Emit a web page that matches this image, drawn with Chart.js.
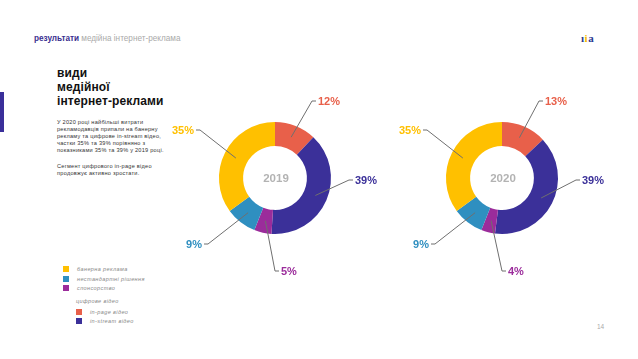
<!DOCTYPE html>
<html>
<head>
<meta charset="utf-8">
<script src="https://cdn.jsdelivr.net/npm/chart.js@4.4.1/dist/chart.umd.min.js"></script>
<style>
  html, body { margin: 0; padding: 0; background: #fff; }
  body { width: 638px; height: 359px; position: relative; overflow: hidden; font-family: "Liberation Sans", Arial, sans-serif; }
  .abs { position: absolute; white-space: nowrap; }
  #head { left: 34px; top: 34px; font-size: 8.2px; line-height: 10px; color: #aaa; }
  #head b { color: #3a2f8f; }
  #logo { left: 581px; top: 32px; font: bold 11px "Liberation Serif", serif; color: #2a3990; letter-spacing: 0.5px; }
  #logo .y { color: #f5b800; }
  #bar { left: 0; top: 92px; width: 4px; height: 40px; background: #3a2f9a; }
  #title { left: 57px; top: 65.8px; font-size: 12px; font-weight: bold; line-height: 14px; color: #111; letter-spacing: 0.1px; }
  #body { left: 57px; top: 119px; font-size: 5.6px; line-height: 7px; color: #333; letter-spacing: 0.25px; }
  #body p { margin: 0 0 9px 0; }
  #legend { left: 0; top: 0; }
  .sq { position: absolute; width: 6px; height: 6px; }
  .lt { position: absolute; font-size: 5.5px; line-height: 6px; font-style: italic; color: #888; letter-spacing: 0.4px; white-space: nowrap; }
  #page { left: 597px; top: 323px; font-size: 6.5px; color: #aaa; }
  canvas { position: absolute; }
</style>
</head>
<body>
<div id="head" class="abs"><b>результати</b> медійна інтернет-реклама</div>
<div id="logo" class="abs">ı<span class="y">i</span>a</div>
<div id="bar" class="abs"></div>
<div id="title" class="abs">види<br>медійної<br>інтернет-реклами</div>
<div id="body" class="abs">
  <p>У 2020 році найбільші витрати<br>рекламодавців припали на банерну<br>рекламу та цифрове in-stream відео,<br>частки 35% та 39% порівняно з<br>показниками 35% та 39% у 2019 році.</p>
  <p>Сегмент цифрового in-page відео<br>продовжує активно зростати.</p>
</div>
<div id="legend" class="abs"></div>
<div id="page" class="abs">14</div>
<canvas id="donut2019" width="240" height="220" style="left:155px;top:68px"></canvas>
<canvas id="donut2020" width="240" height="220" style="left:382px;top:68px"></canvas>
<script>
// slices clockwise from 12 o'clock
const segments = ['in-page відео', 'in-stream відео', 'спонсорство', 'нестандартні рішення', 'банерна реклама'];
const share2019 = [12, 39, 5, 9, 35];
const share2020 = [13, 39, 4, 9, 35];
const years = ['2019', '2020'];
const colors = ['#e8604a', '#3b3099', '#9b2c9b', '#2f8fc0', '#ffc000'];

// legend order as on the slide
const legendTop = [4, 3, 2];   // banner, non-standard, sponsorship
const legendVideo = [0, 1];    // in-page, in-stream
const videoGroup = 'цифрове відео';

// where each leader line bends, relative to donut centre, and which side the text sits
const labelSpots = [
  [37, -77, 1],
  [74, 2, 1],
  [0, 93, 1],
  [-67, 66, -1],
  [-75, -48, -1]
];

const leg = document.getElementById('legend');
function addItem(idx, x, y) {
  leg.insertAdjacentHTML('beforeend',
    `<div class="sq" style="left:${x}px;top:${y}px;background:${colors[idx]}"></div>` +
    `<div class="lt" style="left:${x + 14}px;top:${y}px">${segments[idx]}</div>`);
}
legendTop.forEach((idx, k) => addItem(idx, 63, 266 + k * 9.5));
leg.insertAdjacentHTML('beforeend', `<div class="lt" style="left:76px;top:298px">${videoGroup}</div>`);
legendVideo.forEach((idx, k) => addItem(idx, 76, 308.5 + k * 9.5));

const leaderLabels = {
  id: 'leaderLabels',
  afterDraw(chart, args, opts) {
    const ctx = chart.ctx;
    const meta = chart.getDatasetMeta(0);
    const values = chart.data.datasets[0].data;
    ctx.save();
    meta.data.forEach((arc, i) => {
      const mid = (arc.startAngle + arc.endAngle) / 2;
      const r = (arc.innerRadius + arc.outerRadius) / 2;
      const sx = arc.x + Math.cos(mid) * r;
      const sy = arc.y + Math.sin(mid) * r;
      const [dx, dy, side] = labelSpots[i];
      const ex = arc.x + dx, ey = arc.y + dy;
      ctx.strokeStyle = '#6f6f6f';
      ctx.lineWidth = 1;
      ctx.beginPath();
      ctx.moveTo(sx, sy);
      ctx.lineTo(ex, ey);
      ctx.lineTo(ex + side * 4, ey);
      ctx.stroke();
      ctx.fillStyle = colors[i];
      ctx.font = 'bold 11px "Liberation Sans", Arial, sans-serif';
      ctx.textAlign = side > 0 ? 'left' : 'right';
      ctx.textBaseline = 'middle';
      ctx.fillText(values[i] + '%', ex + side * 6, ey + 0.5);
    });
    const a = meta.data[0];
    ctx.fillStyle = '#b3b3b3';
    ctx.font = 'bold 11.5px "Liberation Sans", Arial, sans-serif';
    ctx.textAlign = 'center';
    ctx.textBaseline = 'middle';
    ctx.fillText(opts.centerText, a.x + 1, a.y + 1);
    ctx.restore();
  }
};

function makeDonut(id, values, year) {
  const ctx = document.getElementById(id).getContext('2d');
  return new Chart(ctx, {
    type: 'doughnut',
    data: {
      labels: segments,
      datasets: [{
        data: values,
        backgroundColor: colors,
        borderWidth: 0,
        radius: 56
      }]
    },
    options: {
      responsive: false,
      animation: false,
      cutout: '57%',
      layout: { padding: 0 },
      plugins: {
        legend: { display: false },
        tooltip: { enabled: false },
        leaderLabels: { centerText: year }
      }
    },
    plugins: [leaderLabels]
  });
}

makeDonut('donut2019', share2019, years[0]);
makeDonut('donut2020', share2020, years[1]);
</script>
</body>
</html>
